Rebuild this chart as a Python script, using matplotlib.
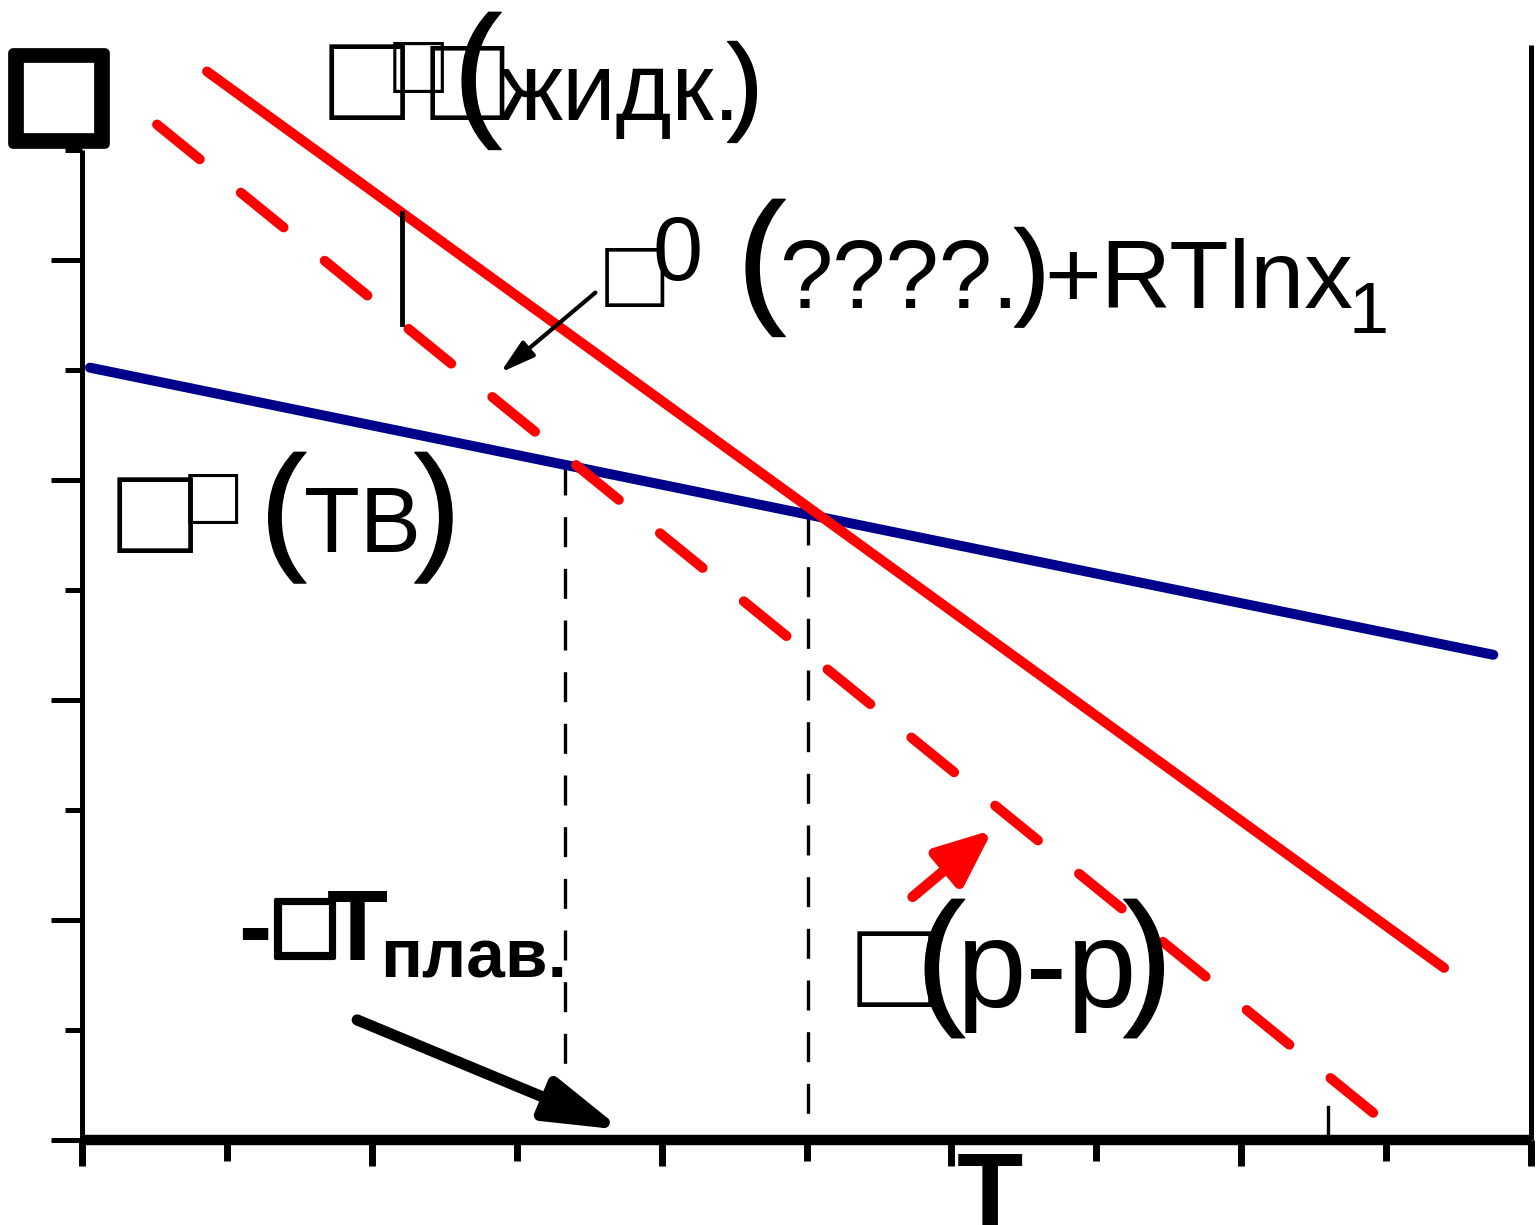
import numpy as np
import matplotlib
matplotlib.use("Agg")
import matplotlib.pyplot as plt
import matplotlib.patheffects as pe

W, H = 1537, 1225
FONTS = ["Liberation Sans", "DejaVu Sans"]
RED = "#ff0000"
BLUE = "#00008b"

# chemical potential lines: (T, mu) end points
T_liquid = [0.863, 9.40]
mu_liquid = [9.709, 1.564]
T_solution = [0.518, 8.93]
mu_solution = [9.227, 0.227]
T_solid = [0.055, 9.74]
mu_solid = [7.018, 4.409]

# melting points of the solution and of the pure solvent
T_melt = [3.336, 5.01]
# where the RT ln x1 gap is marked
T_gap = 2.21
T_mark = 8.598

fig = plt.figure(figsize=(W / 100, H / 100), dpi=100)
ax = fig.add_axes([82 / W, (H - 1140) / H, (1531 - 82) / W, (1140 - 45) / H])
ax.set_xlim(0, 10)
ax.set_ylim(0, 9.95)

LW = 7.2
ax.plot(T_solid, mu_solid, color=BLUE, lw=LW, solid_capstyle="round", zorder=3)
ax.plot(T_liquid, mu_liquid, color=RED, lw=LW, solid_capstyle="round", zorder=4)
ax.plot(T_solution, mu_solution, color=RED, lw=LW, dashes=(5.5, 5.3),
        dash_capstyle="round", zorder=4)

# drop lines from the crossings down to the T axis
for t in T_melt:
    top = np.interp(t, T_solid, mu_solid)
    ax.plot([t, t], [top, 0], color="black", lw=2.4, dashes=(9, 6.5), zorder=2)

# vertical bar between pure liquid and solution lines
ax.plot([T_gap, T_gap],
        [np.interp(T_gap, T_solution, mu_solution), np.interp(T_gap, T_liquid, mu_liquid)],
        color="black", lw=3.5, zorder=5)
ax.plot([T_mark, T_mark], [0, 0.3], color="black", lw=2.4, zorder=5)

# arrows
ax.annotate("", xy=(2.887, 6.973), xytext=(3.543, 7.70),
            arrowprops=dict(arrowstyle="-|>,head_length=0.7,head_width=0.2",
                            mutation_scale=30, lw=3, color="black",
                            shrinkA=0, shrinkB=0, capstyle="round"), zorder=6)
ax.annotate("", xy=(3.729, 0.091), xytext=(1.899, 1.091),
            arrowprops=dict(arrowstyle="-|>,head_length=0.75,head_width=0.22",
                            mutation_scale=60, lw=8, color="black",
                            shrinkA=0, shrinkB=0, capstyle="round",
                            joinstyle="round"), zorder=6)
ax.annotate("", xy=(6.285, 2.818), xytext=(5.732, 2.209),
            arrowprops=dict(arrowstyle="-|>,head_length=0.75,head_width=0.32",
                            mutation_scale=45, lw=7.5, color=RED,
                            shrinkA=0, shrinkB=0, capstyle="round",
                            joinstyle="round"), zorder=6)

# axes frame
ax.spines["top"].set_visible(False)
ax.spines["left"].set_linewidth(3.6)
ax.spines["left"].set_bounds(0, 9)
ax.spines["right"].set_linewidth(3.6)
ax.spines["bottom"].set_linewidth(7.5)
for s in ax.spines.values():
    s.set_capstyle("butt")

ax.set_xticks(np.arange(0, 11, 2))
ax.set_xticks(np.arange(1, 10, 2), minor=True)
ax.set_yticks(np.arange(0, 9, 2))
ax.set_yticks(np.arange(1, 10, 2), minor=True)
ax.tick_params(axis="x", which="major", direction="out", length=19, width=5)
ax.tick_params(axis="x", which="minor", direction="out", length=15, width=5)
ax.tick_params(axis="y", which="major", direction="out", length=22, width=3.6)
ax.tick_params(axis="y", which="minor", direction="out", length=12, width=3.6)
ax.tick_params(labelbottom=False, labelleft=False)


def put(x, y, s, pt, bold=False, stroke=0):
    t = fig.text(x / W, 1 - y / H, s, fontsize=pt, family=FONTS,
                 fontweight="bold" if bold else "normal",
                 ha="left", va="baseline")
    if stroke:
        t.set_path_effects([pe.withStroke(linewidth=stroke, foreground="black")])
    return t


# axis titles
put(13, 144, "\u25a1", 110, stroke=7)
put(957, 1228, "T", 78, bold=True)

# liquid
put(329, 120, "\u25a1", 91)
put(393, 93, "\u25a1", 61)
put(430, 120, "\u25a1", 89)
put(453, 119, "(", 106, stroke=1.0)
put(499, 120, "жидк.", 69)
put(727, 120, ")", 78, stroke=1.0)

# solvent in solution
put(605, 307, "\u25a1", 71)
put(652, 280, "0", 65)
put(737, 306, "(", 106, stroke=1.0)
put(779, 308, "????.", 69)
put(1014, 305, ")", 77, stroke=1.0)
put(1044, 308, "+RTlnx", 70)
put(1349, 333, "1", 52)

# solid
put(117, 553, "\u25a1", 91)
put(188, 524, "\u25a1", 60)
put(260, 554, "(", 101, stroke=1.0)
put(304, 552, "ТВ", 66)
put(414, 554, ")", 101, stroke=1.0)

# solution
put(857, 1007, "\u25a1", 91)
put(916, 1007, "(", 107, stroke=1.0)
put(957, 1007, "р-р", 90)
put(1123, 1007, ")", 107, stroke=1.0)

# freezing point depression
put(238, 960, "-", 72, bold=True)
put(276, 958, "\u25a1", 70, stroke=3)
put(327, 960, "Т", 72, bold=True)
put(380, 977, "плав.", 50, bold=True)

fig.savefig("out.png", dpi=100, facecolor="white")
